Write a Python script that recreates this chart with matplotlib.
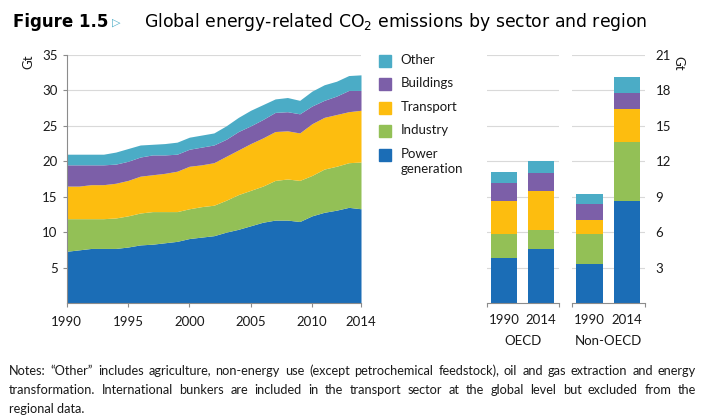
import numpy as np
import matplotlib.pyplot as plt

plt.rcParams['font.family'] = ['Lato', 'DejaVu Sans']

# Global emissions by sector, cumulative tops (Gt)
years = list(range(1990, 2015))
power = [7.3, 7.5, 7.7, 7.7, 7.7, 7.9, 8.2, 8.3, 8.5, 8.7, 9.1, 9.3, 9.5,
         10.0, 10.4, 10.9, 11.4, 11.7, 11.7, 11.5, 12.3, 12.8, 13.1, 13.5, 13.3]
industry_top = [11.9, 11.9, 11.9, 11.9, 12.0, 12.3, 12.7, 12.9, 12.9, 12.9, 13.3, 13.6, 13.8,
                14.5, 15.3, 15.9, 16.5, 17.3, 17.5, 17.3, 18.0, 18.9, 19.3, 19.8, 19.9]
transport_top = [16.5, 16.5, 16.7, 16.7, 16.9, 17.3, 17.9, 18.1, 18.3, 18.6, 19.3, 19.5, 19.8,
                 20.7, 21.6, 22.5, 23.3, 24.2, 24.3, 24.0, 25.3, 26.2, 26.6, 27.0, 27.2]
buildings_top = [19.5, 19.5, 19.5, 19.5, 19.6, 20.0, 20.6, 20.9, 20.9, 21.0, 21.7, 22.0, 22.3,
                 23.1, 24.2, 25.0, 25.9, 26.9, 27.0, 26.7, 27.8, 28.6, 29.2, 30.0, 30.0]
other_top = [21.0, 21.0, 21.0, 21.0, 21.3, 21.8, 22.3, 22.4, 22.5, 22.7, 23.4, 23.7, 24.0,
             25.0, 26.2, 27.2, 28.0, 28.8, 29.0, 28.6, 29.9, 30.8, 31.3, 32.1, 32.2]

# Regional emissions by sector (Gt), order: 1990, 2014
bar_years = ["1990", "2014"]
oecd_power = [3.8, 4.6]
oecd_industry = [2.05, 1.6]
oecd_transport = [2.75, 3.3]
oecd_buildings = [1.55, 1.55]
oecd_other = [0.95, 0.98]
non_power = [3.33, 8.65]
non_industry = [2.5, 4.95]
non_transport = [1.22, 2.8]
non_buildings = [1.35, 1.35]
non_other = [0.85, 1.35]

sectors = ["Power\ngeneration", "Industry", "Transport", "Buildings", "Other"]
colors = ["#1b6db6", "#93c056", "#fdbd0f", "#7c5fa8", "#4bacc6"]
grid_col = "#d9d9d9"
spine_col = "#8c8c8c"
txt_col = "#1a1a1a"

fig = plt.figure(figsize=(7.14, 4.2), dpi=100)
W, H = 714.0, 420.0


def box(x0, y0, x1, y1):
    return [x0 / W, 1 - y1 / H, (x1 - x0) / W, (y1 - y0) / H]


# Left area chart
ax = fig.add_axes(box(66.7, 55, 361, 303))
bottoms = [np.zeros(len(years)), np.array(power), np.array(industry_top),
           np.array(transport_top), np.array(buildings_top)]
tops = [np.array(power), np.array(industry_top), np.array(transport_top),
        np.array(buildings_top), np.array(other_top)]
for b, t, c in zip(bottoms, tops, colors):
    ax.fill_between(years, b, t, color=c, linewidth=0, zorder=2)
ax.set_xlim(1990, 2014)
ax.set_ylim(0, 35)
ax.set_yticks(range(5, 36, 5))
ax.set_xticks([1990, 1995, 2000, 2005, 2010, 2014])
ax.grid(axis='y', color=grid_col, linewidth=0.8, zorder=0)
for s in ['top', 'right']:
    ax.spines[s].set_visible(False)
for s in ['left', 'bottom']:
    ax.spines[s].set_color(spine_col)
    ax.spines[s].set_linewidth(0.8)
ax.tick_params(axis='both', colors=spine_col, labelcolor=txt_col, labelsize=9.5,
               length=3, width=0.8)
ax.tick_params(axis='x', pad=6)
fig.text(28 / W, 1 - 62 / H, "Gt", rotation=90, ha='center', va='center',
         fontsize=9.5, color=txt_col)

# Legend
leg_y = [155, 131, 108, 84, 61]
for lab, c, y in zip(sectors, colors, leg_y):
    fig.patches.append(plt.Rectangle(((379) / W, 1 - (y + 6) / H), 12 / W, 12 / H,
                                     transform=fig.transFigure, color=c))
    fig.text(400.5 / W, 1 - (y - 7) / H, lab, ha='left', va='top', fontsize=9.5,
             color=txt_col, linespacing=1.25)

# Right regional bars
groups = [("OECD", box(487, 55, 559, 303),
           [oecd_power, oecd_industry, oecd_transport, oecd_buildings, oecd_other]),
          ("Non-OECD", box(572, 55, 645, 303),
           [non_power, non_industry, non_transport, non_buildings, non_other])]
for i, (name, pos, vals) in enumerate(groups):
    bx = fig.add_axes(pos)
    x = np.arange(len(bar_years))
    bottom = np.zeros(len(bar_years))
    for v, c in zip(vals, colors):
        bx.bar(x, v, 0.7, bottom=bottom, color=c, linewidth=0, zorder=2)
        bottom = bottom + np.array(v)
    bx.set_xlim(-0.47, 1.48)
    bx.set_ylim(0, 21)
    bx.set_yticks(range(3, 22, 3))
    bx.grid(axis='y', color=grid_col, linewidth=0.8, zorder=0)
    bx.set_xticks(x)
    bx.set_xticklabels(bar_years)
    bx.set_xticks([-0.47, 1.48], minor=True)
    bx.tick_params(axis='x', which='major', length=0, labelsize=9.5,
                   labelcolor=txt_col, pad=8)
    bx.tick_params(axis='x', which='minor', length=3, width=0.8, colors=spine_col)
    for s in ['top', 'right', 'left']:
        bx.spines[s].set_visible(False)
    bx.spines['bottom'].set_color(spine_col)
    bx.spines['bottom'].set_linewidth(0.8)
    if i == 0:
        bx.tick_params(axis='y', left=False, labelleft=False)
    else:
        bx.tick_params(axis='y', left=False, labelleft=False, right=False,
                       labelright=True, labelsize=9.5, labelcolor=txt_col, pad=4)
    bx.text(0.5, -0.155, name, transform=bx.transAxes, ha='center', va='center',
            fontsize=9.5, color=txt_col)

fig.text(678 / W, 1 - 63 / H, "Gt", rotation=270, ha='center', va='center',
         fontsize=9.5, color=txt_col)

# Title
fig.text(13 / W, 1 - 22 / H, "Figure 1.5", ha='left', va='center', fontsize=12,
         fontweight='bold', family='DejaVu Sans', color='black')
fig.text(112 / W, 1 - 23 / H, "\u25B7", ha='left', va='center', fontsize=8,
         family='DejaVu Sans', color='#4bacc6')
fig.text(144 / W, 1 - 22 / H, "Global energy-related CO$_2$ emissions by sector and region",
         ha='left', va='center', fontsize=12.4, family='DejaVu Sans', color='black')

# Notes, justified on the first two lines
notes = ['Notes: \u201cOther\u201d includes agriculture, non-energy use (except petrochemical feedstock), oil and gas extraction and energy',
         'transformation. International bunkers are included in the transport sector at the global level but excluded from the',
         'regional data.']
x_left, x_right = 9.0, 696.0
renderer = fig.canvas.get_renderer()
for k, (line, y) in enumerate(zip(notes, [371, 390, 409])):
    if k == len(notes) - 1:
        fig.text(x_left / W, 1 - y / H, line, ha='left', va='center', fontsize=9.2,
                 color=txt_col)
        continue
    words = line.split(' ')
    arts = [fig.text(0, 1 - y / H, w_, ha='left', va='center', fontsize=9.2,
                     color=txt_col) for w_ in words]
    widths = [a.get_window_extent(renderer).width for a in arts]
    gap = (x_right - x_left - sum(widths)) / (len(words) - 1)
    xpos = x_left
    for a, wd in zip(arts, widths):
        a.set_x(xpos / W)
        xpos += wd + gap

fig.savefig("out.png", dpi=100)
